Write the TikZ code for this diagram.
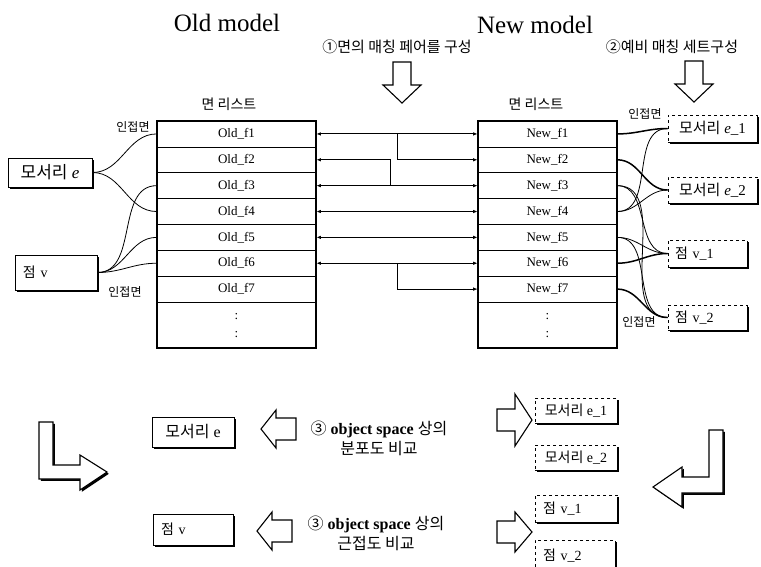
\documentclass[tikz,border=0pt]{standalone}
\usepackage{fontspec}
\setmainfont{Liberation Serif}
\newfontfamily\kr{Noto Sans CJK KR}
\usetikzlibrary{arrows.meta,positioning,fit,backgrounds,calc,shadows}

\begin{document}
\begin{tikzpicture}[x=1pt,y=-1pt,font=\fontsize{13}{15}\selectfont,
    >={Latex[length=4.5pt,width=3.5pt]},
    cell/.style={rectangle,draw,line width=0.7pt,minimum height=25.86pt,inner sep=0pt},
    frame/.style={rectangle,draw,line width=1.8pt,inner sep=0pt},
    solidbox/.style={rectangle,draw,line width=1pt,fill=white,inner sep=0pt,
      drop shadow={shadow xshift=1.6pt,shadow yshift=-1.6pt,opacity=1,fill=black}},
    dashbox/.style={rectangle,draw,dashed,line width=0.9pt,fill=white,inner sep=0pt,
      drop shadow={shadow xshift=1.8pt,shadow yshift=-1.8pt,opacity=1,fill=black}},
    adj/.style={line width=0.8pt},
    adjb/.style={line width=1.5pt},
    link/.style={<->,line width=0.9pt},
    blk/.style={draw,line width=1.1pt,fill=white,line join=miter},
    lshadow/.style={drop shadow={shadow xshift=1.8pt,shadow yshift=-1.8pt,opacity=1,fill=black}},
    lbl/.style={font=\kr\fontsize{12}{13}\selectfont},
    pics/blkdown/.style={code={\draw[blk] (-9,-23) -- (9,-23) -- (9,0) -- (19,0) -- (0,18) -- (-19,0) -- (-9,0) -- cycle;}},
    pics/blkleft/.style={code={\draw[blk] (20,-11) -- (20,11) -- (0,11) -- (0,19) -- (-15,0) -- (0,-19) -- (0,-11) -- cycle;}},
    pics/blkright/.style={code={\draw[blk] (-18,-11) -- (0,-11) -- (0,-#1) -- (17,0) -- (0,#1) -- (0,11) -- (-18,11) -- cycle;}}]

  \useasboundingbox (0,0) rectangle (761,566);

  % titles and steps
  \node[font=\fontsize{25}{27}\selectfont] (oldt) at (227,23) {Old model};
  \node[font=\fontsize{25}{27}\selectfont] (newt) at (535,25) {New model};
  \node[font=\kr\fontsize{15}{17}\selectfont] (step1) at (397,47) {①면의 매칭 페어를 구성};
  \node[font=\kr\fontsize{15}{17}\selectfont] (step2) at (672,47) {②예비 매칭 세트구성};
  \pic at (402,85) {blkdown};
  \pic at (694,84) {blkdown};

  % face lists
  \node[font=\kr\fontsize{14}{16}\selectfont] (oldh) at (229,104) {면 리스트};
  \node[font=\kr\fontsize{14}{16}\selectfont] (newh) at (536,104) {면 리스트};
  \foreach \i in {1,...,7}{
    \node[cell,minimum width=159pt] (o\i) at (236.5,{121+25.86*(\i-0.5)}) {Old\_f\i};
    \node[cell,minimum width=139pt] (n\i) at (547.5,{121+25.86*(\i-0.5)}) {New\_f\i};
  }
  \node[cell,minimum width=159pt,minimum height=45pt,anchor=north,align=center] (o8) at (o7.south) {:\\[3pt]:};
  \node[cell,minimum width=139pt,minimum height=45pt,anchor=north,align=center] (n8) at (n7.south) {:\\[3pt]:};
  \node[frame,fit=(o1)(o8)] (oldtab) {};
  \node[frame,fit=(n1)(n8)] (newtab) {};

  % matching pairs
  \coordinate (b1) at ($(o1.east)!0.5!(n1.west)$);
  \coordinate (m3) at ($(o3.east)!0.46!(n3.west)$);
  \coordinate (b6) at ($(o6.east)!0.5!(n6.west)$);
  \draw[link] (o1.east) -- (n1.west);
  \draw[adj,->] (b1) |- (n2.west);
  \draw[adj,<-] (o2.east) -| (m3);
  \foreach \i in {3,...,6}{
    \draw[link] (o\i.east) -- (n\i.west);
  }
  \draw[adj,->] (b6) |- (n7.west);

  % old model entities
  \node[solidbox,minimum width=84pt,minimum height=29pt,font=\fontsize{17}{19}\selectfont] (oe) at (50,172.5) {{\kr 모서리} \textit{e}};
  \node[solidbox,minimum height=35pt,text width=66pt,align=left,inner xsep=8pt,font=\fontsize{14}{16}\selectfont] (ov) at (56,272.5) {{\kr 점} v};
  \node[lbl] (oadj1) at (133,127) {인접면};
  \node[lbl] (oadj2) at (125,292) {인접면};
  \draw[adj] (oe.east) to[out=0,in=180] (o1.west);
  \draw[adj] (oe.east) to[out=0,in=180] (o4.west);
  \foreach \i in {3,5,6}{
    \draw[adj] (ov.east) to[out=0,in=180] (o\i.west);
  }

  % new model candidates
  \node[dashbox,minimum width=89pt,minimum height=27pt,font=\fontsize{15}{17}\selectfont] (ne1) at (712.5,128.5) {{\kr 모서리} \textit{e}\_1};
  \node[dashbox,minimum width=89pt,minimum height=26pt,font=\fontsize{15}{17}\selectfont] (ne2) at (712.5,190) {{\kr 모서리} \textit{e}\_2};
  \node[dashbox,minimum height=27pt,text width=65pt,align=left,inner xsep=7pt,font=\fontsize{14}{16}\selectfont] (nv1) at (707.5,253.5) {{\kr 점} v\_1};
  \node[dashbox,minimum height=25pt,text width=65pt,align=left,inner xsep=7pt,font=\fontsize{14}{16}\selectfont] (nv2) at (707.5,317.5) {{\kr 점} v\_2};
  \node[lbl] (nadj1) at (645,114) {인접면};
  \node[lbl] (nadj2) at (639,322) {인접면};
  \draw[adjb] (n1.east) to[out=0,in=180] (ne1.west);
  \draw[adj] (n4.east) to[out=0,in=180] (ne1.west);
  \draw[adjb] (n2.east) to[out=0,in=180] (ne2.west);
  \draw[adj] (n4.east) to[out=0,in=180] (ne2.west);
  \draw[adj] (n3.east) to[out=0,in=180] (nv1.west);
  \draw[adj] (n5.east) to[out=0,in=180] (nv1.west);
  \draw[adjb] (n6.east) to[out=0,in=180] (nv1.west);
  \draw[adj] (n3.east) to[out=0,in=180] (nv2.west);
  \draw[adj] (n5.east) to[out=0,in=180] (nv2.west);
  \draw[adjb] (n7.east) to[out=0,in=180] (nv2.west);

  % comparison in object space
  \draw[blk,lshadow] (39,422) -- (53,422) -- (53,465) -- (80,465) -- (80,455) -- (107,472)
        -- (80,490) -- (80,479) -- (39,479) -- cycle;
  \draw[blk,lshadow] (709,430) -- (723,430) -- (723,493) -- (682,493) -- (682,507) -- (653,487)
        -- (682,467) -- (682,477) -- (709,477) -- cycle;

  \node[solidbox,minimum width=82pt,minimum height=30pt,font=\fontsize{16}{18}\selectfont] (be) at (193,432) {{\kr 모서리} e};
  \node[solidbox,minimum height=31pt,text width=64pt,align=left,inner xsep=8pt,font=\fontsize{14}{16}\selectfont] (bv) at (193,529.5) {{\kr 점} v};
  \pic at (276,429) {blkleft};
  \pic at (272,531) {blkleft};
  \node[align=center,font=\fontsize{16}{20}\selectfont] (cmp1) at (379,438) {{\kr ③} \textbf{object space} {\kr 상의}\\{\kr 분포도 비교}};
  \node[align=center,font=\fontsize{16}{20}\selectfont] (cmp2) at (376,533) {{\kr ③} \textbf{object space} {\kr 상의}\\{\kr 근접도 비교}};
  \pic at (515,420) {blkright=26};
  \pic at (515,532) {blkright=20};

  \node[dashbox,minimum width=82pt,minimum height=25pt,font=\fontsize{14}{16}\selectfont] (be1) at (576,410.5) {{\kr 모서리} e\_1};
  \node[dashbox,minimum width=82pt,minimum height=25pt,font=\fontsize{14}{16}\selectfont] (be2) at (576,457.5) {{\kr 모서리} e\_2};
  \node[dashbox,minimum height=27pt,text width=66pt,align=left,inner xsep=8pt,font=\fontsize{14}{16}\selectfont] (bv1) at (576,508.5) {{\kr 점} v\_1};
  \node[dashbox,minimum height=32pt,text width=64pt,align=left,inner xsep=8pt,font=\fontsize{14}{16}\selectfont] (bv2) at (575,556) {{\kr 점} v\_2};
\end{tikzpicture}
\end{document}
